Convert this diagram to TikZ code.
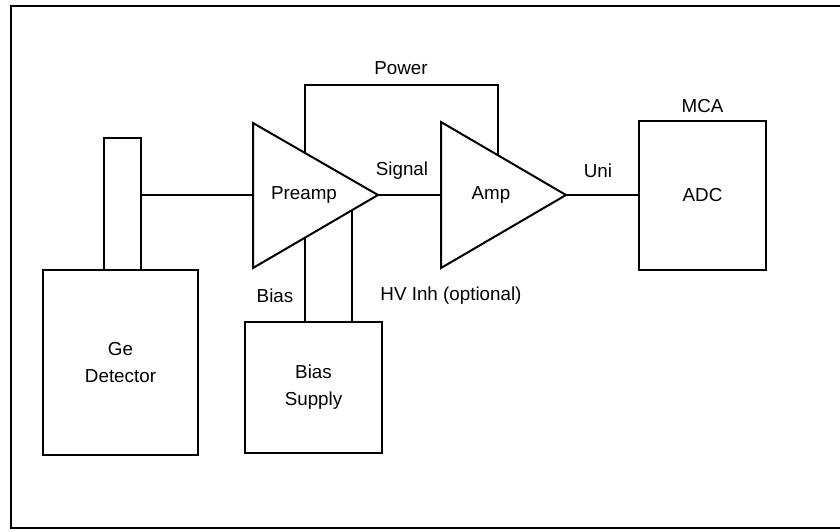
\documentclass[tikz,border=0pt]{standalone}
\usepackage{fontspec}
\setmainfont{Liberation Sans}
\usetikzlibrary{calc,positioning}
\tikzset{
  unit/.style={rectangle,draw,line width=0.8pt,inner sep=0pt,align=center,
    font=\fontsize{9.4}{13.5}\selectfont},
  ampbody/.style={draw,line width=1pt,line join=miter},
  wire/.style={line width=0.9pt},
  tag/.style={inner sep=0pt,font=\fontsize{9.4}{11}\selectfont}}

\begin{document}
\begin{tikzpicture}[x=0.5pt,y=-0.5pt]
  \useasboundingbox (0,0) rectangle (840,531);
  \draw[line width=1pt] (11,6) rectangle (850,528);
  % detector and bias supply
  \node[unit,minimum width=18.5pt,minimum height=66pt] (neck) at (122.5,204) {};
  \node[unit,minimum width=77.5pt,minimum height=92.5pt] (det) at (120.5,362.5) {Ge\\Detector};
  \node[unit,minimum width=68.5pt,minimum height=65.5pt] (sup) at (313.5,387.5) {Bias\\Supply};
  \node[unit,minimum width=63.5pt,minimum height=74.5pt] (adc) at (702.5,195.5) {ADC};
  \node[tag,above=3.5pt of adc] (mca) {MCA};
  % amplifier triangles
  \coordinate (pre-top) at (253,123);
  \coordinate (pre-bot) at (253,268);
  \coordinate (pre-out) at (378,195);
  \coordinate (pre-in) at (253,195);
  \coordinate (amp-top) at (441,122);
  \coordinate (amp-bot) at (441,268);
  \coordinate (amp-out) at (566,195);
  \coordinate (amp-in) at (441,195);
  \draw[ampbody] (pre-top) -- (pre-out) -- (pre-bot) -- cycle;
  \draw[ampbody] (amp-top) -- (amp-out) -- (amp-bot) -- cycle;
  \node[tag] (preamp) at (304,195) {Preamp};
  \node[tag] (amp) at (491,195) {Amp};
  % wiring
  \coordinate (pw-a) at ($(pre-top)!0.416!(pre-out)$);
  \coordinate (pw-b) at ($(amp-top)!0.456!(amp-out)$);
  \coordinate (bs-a) at ($(pre-bot)!0.416!(pre-out)$);
  \coordinate (bs-b) at ($(pre-bot)!0.792!(pre-out)$);
  \draw[wire] (neck.east |- pre-in) -- (pre-in);
  \draw[wire] (pw-a) |- ($(pw-b)+(0,-70)$) -- (pw-b);
  \draw[wire] (pre-out) -- (amp-in);
  \draw[wire] (amp-out) -- (adc.west |- amp-out);
  \draw[wire] (bs-a) -- (bs-a |- sup.north);
  \draw[wire] (bs-b) -- (bs-b |- sup.north);
  % labels
  \node[tag] (power) at (401,68) {Power};
  \node[tag] (signal) at (402,171) {Signal};
  \node[tag] (uni) at (598,171) {Uni};
  \node[tag] (bias) at (275,296) {Bias};
  \node[tag] (hvinh) at (451,296) {HV Inh (optional)};
\end{tikzpicture}
\end{document}
